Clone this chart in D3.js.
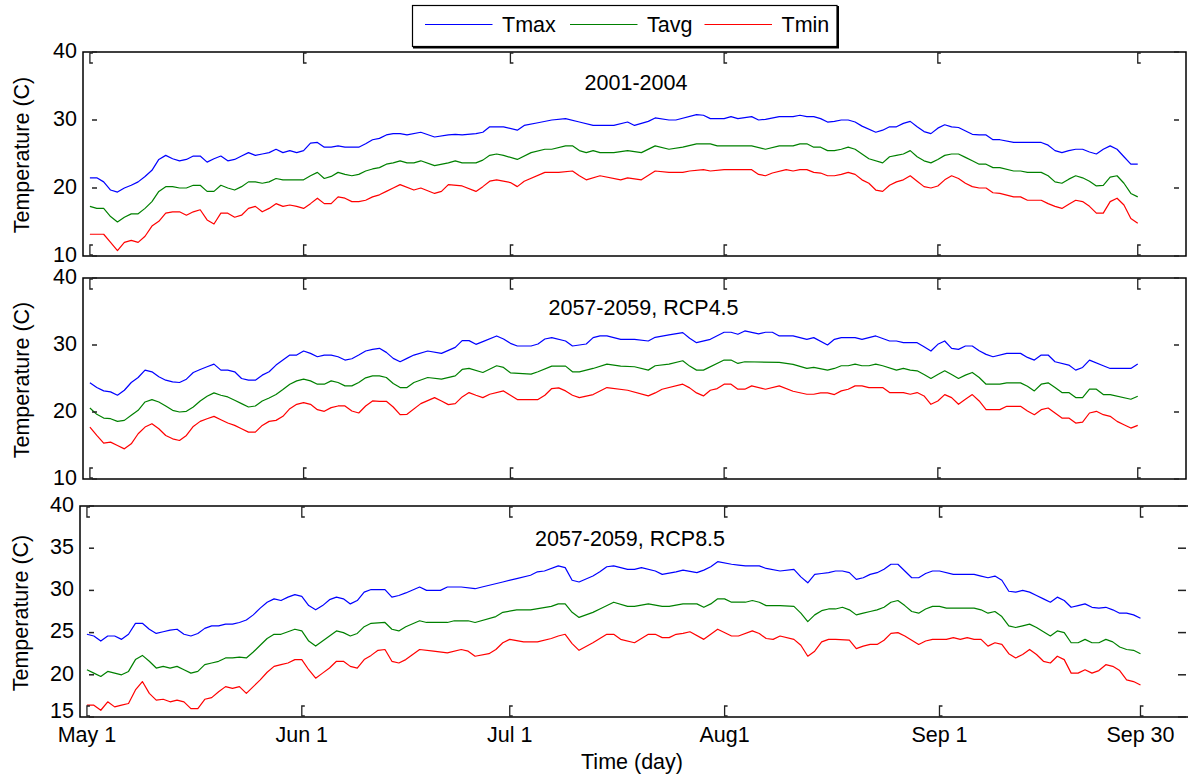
<!DOCTYPE html>
<html>
<head>
<meta charset="utf-8">
<script src="https://cdn.jsdelivr.net/npm/d3@7"></script>
<style>
  html, body { margin: 0; padding: 0; background: #fff; }
  svg { display: block; }
  text { font-family: "Liberation Sans", Arial, Helvetica, sans-serif; fill: #000; }
</style>
</head>
<body>
<svg id="chart" width="1188" height="776"></svg>
<script>
// ---------------- DATA ----------------
const seriesNames = ["Tmax", "Tavg", "Tmin"];
const seriesColors = ["#0000ff", "#008000", "#ff0000"];
const panelTitles = ["2001-2004", "2057-2059, RCP4.5", "2057-2059, RCP8.5"];
const tickDays = [1, 32, 62, 93, 124, 153];
const tickLabels = ["May 1", "Jun 1", "Jul 1", "Aug1", "Sep 1", "Sep 30"];
const yTicksA = [10, 20, 30, 40];
const yTicksB = [15, 20, 25, 30, 35, 40];
const xLabel = "Time (day)";
const yLabel = "Temperature (C)";

// [day (May 1 = 1), temperature]
const p1Tmax = [[1,21.5],[2,21.5],[3,20.9],[4,19.7],[5,19.4],[6,20.0],[7,20.4],[8,20.9],[9,21.7],[10,22.6],[11,24.2],[12,24.8],[13,24.3],[14,24.0],[15,24.2],[16,24.7],[17,24.7],[18,23.8],[19,24.3],[20,24.7],[21,24.0],[22,24.2],[23,24.7],[24,25.2],[25,24.8],[26,25.0],[27,25.2],[28,25.7],[29,25.2],[30,25.5],[31,25.2],[32,25.5],[33,26.6],[34,26.7],[35,26.0],[36,26.0],[37,26.2],[38,26.0],[39,26.0],[40,26.0],[41,26.5],[42,27.1],[43,27.3],[44,27.8],[45,28.0],[46,28.0],[47,27.8],[49,28.2],[51,27.5],[53,27.8],[54,27.9],[55,27.8],[57,28.0],[58,28.2],[59,29.0],[61,29.0],[63,28.5],[64,29.2],[66,29.6],[68,30.0],[70,30.2],[72,29.7],[74,29.2],[77,29.2],[79,29.7],[80,29.2],[82,29.8],[83,30.3],[85,30.0],[86,30.0],[89,30.8],[90,30.7],[91,30.2],[93,30.2],[94,30.5],[95,30.2],[97,30.5],[98,30.0],[99,30.1],[101,30.5],[103,30.5],[104,30.7],[105,30.5],[106,30.5],[107,30.2],[108,29.7],[109,29.8],[110,30.0],[111,30.0],[112,29.7],[113,29.1],[115,28.2],[116,28.5],[117,29.0],[118,29.0],[119,29.5],[120,29.8],[121,29.0],[122,28.3],[123,28.0],[124,28.8],[125,29.3],[126,29.0],[127,28.9],[129,27.9],[130,27.8],[131,27.8],[132,27.1],[133,27.1],[135,26.7],[137,26.7],[139,26.7],[140,26.3],[141,25.5],[142,25.2],[143,25.5],[144,25.7],[145,25.7],[146,25.3],[147,25.0],[148,25.7],[149,26.2],[150,25.7],[151,24.6],[152,23.5],[153,23.5]];
const p1Tavg = [[1,17.3],[2,17.0],[3,17.0],[4,15.8],[5,15.0],[6,15.7],[7,16.2],[8,16.2],[9,17.0],[10,18.0],[11,19.5],[12,20.2],[13,20.2],[14,20.0],[15,20.0],[16,20.4],[17,20.4],[18,19.5],[19,19.5],[20,20.4],[21,20.0],[22,19.7],[23,20.2],[24,20.9],[25,20.9],[26,20.7],[27,20.9],[28,21.4],[29,21.2],[30,21.2],[31,21.2],[32,21.2],[33,21.8],[34,22.3],[35,21.4],[36,21.7],[37,22.3],[38,22.0],[39,21.8],[40,22.0],[41,22.5],[42,22.8],[43,23.0],[44,23.5],[45,23.7],[46,24.0],[47,23.7],[48,23.7],[49,24.0],[51,23.3],[53,23.7],[54,24.0],[55,23.7],[57,23.7],[58,24.1],[59,24.8],[60,25.0],[61,24.8],[63,24.2],[65,25.2],[67,25.7],[68,25.7],[70,26.2],[71,26.2],[72,25.5],[73,25.2],[74,25.5],[75,25.2],[77,25.2],[79,25.5],[81,25.2],[83,26.2],[85,25.7],[87,26.0],[89,26.5],[91,26.5],[92,26.2],[97,26.2],[99,25.7],[101,26.2],[103,26.2],[104,26.5],[105,26.5],[106,26.0],[107,26.0],[108,25.5],[109,25.5],[110,25.7],[111,26.0],[112,25.7],[113,25.0],[114,24.3],[116,23.7],[117,24.6],[118,24.8],[119,25.0],[120,25.5],[121,24.6],[122,24.0],[123,23.7],[124,24.2],[125,24.8],[126,25.0],[127,25.0],[128,24.5],[129,24.0],[130,23.5],[131,23.5],[132,23.0],[133,23.0],[135,22.5],[136,22.5],[137,22.3],[139,22.3],[140,21.8],[141,20.9],[142,20.7],[143,21.3],[144,21.8],[145,21.5],[146,21.0],[147,20.3],[148,20.4],[149,21.6],[150,21.8],[151,20.7],[152,19.2],[153,18.7]];
const p1Tmin = [[1,13.2],[2,13.2],[3,13.2],[4,12.0],[5,10.8],[6,12.0],[7,12.3],[8,12.0],[9,12.9],[10,14.4],[11,15.1],[12,16.3],[13,16.5],[14,16.5],[15,16.0],[16,16.5],[17,16.8],[18,15.3],[19,14.7],[20,16.3],[21,16.3],[22,15.7],[23,16.0],[24,17.0],[25,17.3],[26,16.5],[27,17.0],[28,17.7],[29,17.3],[30,17.5],[31,17.3],[32,17.0],[33,17.7],[34,18.5],[35,17.7],[36,17.7],[37,18.7],[38,18.5],[39,18.0],[40,18.0],[41,18.2],[42,18.7],[43,19.0],[44,19.5],[45,20.0],[46,20.5],[48,19.7],[49,20.0],[51,19.2],[52,19.5],[53,20.5],[55,20.3],[57,19.5],[58,20.2],[59,21.0],[60,21.2],[62,20.8],[63,20.2],[64,21.0],[67,22.3],[69,22.3],[71,22.5],[72,21.8],[73,21.2],[75,21.8],[78,21.2],[79,21.5],[81,21.2],[83,22.5],[85,22.3],[87,22.3],[88,22.5],[90,22.7],[91,22.5],[93,22.7],[97,22.7],[98,22.0],[99,21.8],[100,22.2],[102,22.7],[103,22.5],[104,22.7],[105,22.7],[106,22.3],[107,22.2],[108,21.8],[109,21.8],[110,22.0],[111,22.3],[112,22.0],[113,21.2],[114,20.7],[115,19.7],[116,19.5],[117,20.4],[118,20.9],[119,21.2],[120,21.8],[121,21.0],[122,20.2],[123,20.0],[124,20.3],[125,21.2],[126,21.8],[127,21.4],[128,20.7],[129,20.2],[130,20.0],[131,20.0],[132,19.3],[133,19.2],[135,18.7],[136,18.7],[137,18.2],[139,18.2],[140,17.7],[141,17.3],[142,17.0],[143,17.6],[144,18.2],[145,18.0],[146,17.3],[147,16.3],[148,16.3],[149,18.0],[150,18.5],[151,17.5],[152,15.5],[153,14.8]];

const p2Tmax = [[1,24.35],[2,23.65],[3,23.15],[4,23.0],[5,22.5],[6,23.25],[7,24.4],[8,25.15],[9,26.25],[10,26.0],[11,25.25],[12,24.75],[13,24.5],[14,24.4],[15,24.9],[16,25.9],[17,26.35],[18,26.75],[19,27.15],[20,26.25],[21,26.25],[22,26.0],[23,25.0],[24,24.75],[25,24.75],[26,25.5],[27,26.0],[28,27.0],[29,27.75],[30,28.5],[31,28.5],[32,29.1],[33,28.75],[34,28.25],[35,28.5],[36,28.5],[37,28.25],[38,27.75],[39,27.95],[40,28.5],[41,29.1],[42,29.35],[43,29.5],[44,28.9],[45,28.0],[46,27.5],[47,28.0],[48,28.5],[50,29.1],[52,28.75],[54,29.65],[55,30.65],[56,30.65],[57,30.1],[58,30.5],[60,31.35],[61,30.9],[62,30.25],[63,29.85],[65,29.85],[66,30.15],[67,30.9],[68,31.1],[70,30.6],[71,29.85],[73,30.15],[74,31.1],[75,31.35],[76,31.35],[78,30.85],[80,30.85],[82,30.6],[83,31.15],[85,31.5],[87,31.85],[88,31.0],[89,30.35],[91,30.85],[93,31.9],[94,31.9],[95,31.6],[96,32.1],[98,31.65],[99,31.9],[100,31.9],[101,31.35],[103,31.35],[104,31.1],[105,30.85],[106,31.1],[108,30.0],[109,30.85],[110,31.1],[112,31.1],[113,30.85],[115,31.35],[117,30.6],[118,30.6],[119,30.35],[121,30.35],[122,29.75],[123,29.1],[124,30.1],[125,30.6],[126,29.5],[127,29.35],[128,29.85],[129,29.85],[130,29.15],[131,28.6],[132,28.25],[134,28.75],[136,28.75],[137,28.15],[138,27.75],[139,28.5],[140,28.5],[141,27.5],[143,27.0],[144,26.25],[145,26.65],[146,27.75],[148,26.9],[149,26.5],[152,26.5],[153,27.15]];
const p2Tavg = [[1,20.6],[2,19.65],[3,19.1],[4,19.0],[5,18.6],[6,18.75],[7,19.5],[8,20.25],[9,21.5],[10,21.85],[11,21.5],[12,20.9],[13,20.25],[14,20.0],[15,20.1],[16,20.75],[17,21.65],[18,22.35],[19,22.85],[20,22.5],[21,22.25],[22,21.75],[23,21.25],[24,20.75],[25,20.9],[26,21.65],[27,22.1],[28,22.6],[29,23.35],[30,24.15],[31,24.65],[32,24.9],[33,24.65],[34,24.15],[35,24.15],[36,24.65],[37,24.4],[38,23.9],[39,23.9],[40,24.4],[41,25.1],[42,25.4],[43,25.4],[44,25.15],[45,24.25],[46,23.65],[47,23.65],[48,24.4],[50,25.15],[52,24.9],[54,25.4],[55,26.35],[56,26.5],[58,25.9],[60,26.9],[61,26.65],[62,25.85],[65,25.65],[66,26.0],[68,26.85],[70,26.85],[71,26.0],[72,26.0],[74,26.5],[76,27.15],[78,26.85],[80,26.75],[82,26.25],[83,26.9],[85,27.15],[87,27.65],[88,26.85],[89,26.25],[90,26.25],[93,27.75],[94,27.75],[95,27.25],[96,27.5],[101,27.4],[103,27.1],[105,26.5],[106,26.65],[108,26.25],[109,26.5],[110,26.9],[111,26.9],[112,27.15],[113,26.9],[114,26.9],[115,27.15],[116,26.9],[118,26.25],[119,26.5],[120,26.25],[121,26.15],[122,25.6],[123,25.0],[124,25.6],[125,26.15],[126,25.6],[127,25.0],[128,25.5],[129,25.9],[130,25.15],[131,24.15],[133,24.15],[134,24.35],[136,24.35],[137,23.85],[138,23.15],[139,24.15],[140,24.35],[141,23.65],[142,22.9],[143,22.9],[144,22.15],[145,22.15],[146,23.4],[147,23.4],[148,22.6],[149,22.6],[152,21.9],[153,22.35]];
const p2Tmin = [[1,17.75],[2,16.5],[3,15.35],[4,15.5],[5,15.0],[6,14.5],[7,15.25],[8,16.75],[9,17.75],[10,18.25],[11,17.5],[12,16.5],[13,16.0],[14,15.75],[15,16.5],[16,17.85],[17,18.6],[18,19.0],[19,19.35],[20,18.85],[21,18.35],[22,18.0],[23,17.5],[24,17.0],[25,17.0],[26,18.0],[27,18.6],[28,18.75],[29,19.35],[30,20.5],[31,21.15],[32,21.4],[33,21.15],[34,20.35],[35,20.1],[36,20.65],[37,20.9],[38,20.9],[39,20.15],[40,19.85],[41,20.9],[42,21.65],[43,21.6],[44,21.6],[45,20.75],[46,19.6],[47,19.65],[49,21.25],[51,22.15],[52,21.65],[53,21.1],[54,21.25],[55,22.25],[56,22.9],[57,22.5],[58,22.15],[59,22.65],[61,23.15],[62,22.5],[63,21.85],[66,21.85],[67,22.5],[68,23.5],[69,23.6],[70,23.15],[71,22.5],[72,22.15],[74,22.6],[76,23.65],[79,23.25],[82,22.4],[83,22.85],[84,23.4],[87,24.15],[88,23.6],[89,22.85],[90,22.4],[91,23.25],[92,23.5],[93,24.15],[94,24.15],[95,23.4],[96,23.4],[97,23.9],[99,23.4],[101,23.9],[103,23.1],[105,22.65],[106,22.65],[107,22.85],[108,22.85],[109,22.6],[110,23.15],[111,23.4],[112,23.9],[113,23.9],[114,23.65],[116,23.65],[117,22.9],[119,22.9],[120,22.65],[121,22.9],[122,22.4],[123,21.15],[124,21.65],[125,22.6],[126,22.15],[127,21.15],[128,21.9],[129,22.6],[130,21.65],[131,20.35],[133,20.35],[134,20.85],[136,20.85],[137,20.15],[138,19.6],[139,20.35],[140,20.6],[141,19.85],[142,19.1],[143,19.1],[144,18.35],[145,18.5],[146,19.85],[147,20.1],[148,19.6],[149,19.35],[150,18.6],[151,18.1],[152,17.6],[153,18.0]];

const p3Tmax = [[1,24.8],[2,24.6],[3,24.0],[4,24.6],[5,24.6],[6,24.2],[7,24.8],[8,26.1],[9,26.1],[10,25.4],[11,24.9],[12,25.1],[13,25.3],[14,25.4],[15,24.8],[16,24.6],[17,24.9],[18,25.5],[19,25.8],[20,25.8],[21,26.0],[22,26.0],[23,26.2],[24,26.5],[25,27.1],[26,27.9],[27,28.6],[28,29.0],[29,28.8],[30,29.2],[31,29.5],[32,29.3],[33,28.2],[34,27.7],[35,28.2],[36,28.9],[37,29.2],[38,29.0],[39,28.4],[40,28.8],[41,29.8],[42,30.1],[44,30.1],[45,29.2],[46,29.4],[47,29.7],[49,30.4],[50,30.0],[52,30.0],[53,30.4],[55,30.4],[57,30.2],[58,30.4],[61,31.0],[63,31.4],[65,31.8],[66,32.2],[67,32.3],[69,32.9],[70,32.7],[71,31.2],[72,31.0],[74,31.7],[75,32.2],[76,32.8],[77,32.9],[79,32.5],[80,32.5],[81,32.7],[83,32.3],[84,31.9],[86,32.2],[87,32.4],[89,32.1],[90,32.4],[91,32.8],[92,33.4],[94,33.1],[95,33.0],[96,32.9],[98,32.9],[99,32.6],[101,32.3],[103,32.5],[104,31.6],[105,30.9],[106,31.9],[107,32.0],[108,32.1],[109,32.3],[110,32.3],[111,32.1],[112,31.3],[113,31.5],[114,31.9],[115,32.1],[116,32.5],[117,33.1],[118,33.1],[119,32.3],[120,31.5],[121,31.5],[122,32.0],[123,32.3],[124,32.3],[126,31.9],[129,31.9],[130,31.7],[131,31.5],[132,31.7],[133,31.2],[134,29.9],[135,29.8],[136,30.0],[137,29.8],[138,29.4],[139,29.0],[140,28.6],[141,29.2],[142,28.8],[143,28.0],[144,28.2],[145,28.4],[146,28.0],[147,27.9],[148,28.0],[149,27.7],[150,27.3],[151,27.3],[152,27.1],[153,26.7]];
const p3Tavg = [[1,20.6],[2,20.2],[3,19.8],[4,20.4],[5,20.2],[6,20.0],[7,20.4],[8,21.8],[9,22.3],[10,21.6],[11,20.8],[12,21.0],[13,20.8],[14,21.0],[15,20.6],[16,20.2],[17,20.4],[18,21.2],[19,21.4],[20,21.6],[21,22.0],[22,22.0],[23,22.1],[24,22.0],[25,22.7],[26,23.5],[27,24.3],[28,24.8],[29,24.8],[30,25.1],[31,25.4],[32,25.2],[33,24.0],[34,23.4],[35,24.0],[36,24.6],[37,25.2],[38,25.0],[39,24.6],[40,24.9],[41,25.7],[42,26.1],[44,26.2],[45,25.4],[46,25.2],[47,25.7],[49,26.4],[50,26.2],[53,26.2],[54,26.4],[56,26.4],[57,26.2],[60,26.9],[61,27.4],[63,27.7],[65,27.7],[68,28.1],[69,28.4],[70,28.4],[71,27.4],[72,26.8],[74,27.4],[75,27.8],[77,28.6],[79,28.1],[80,28.1],[82,28.4],[84,28.1],[85,28.1],[87,28.4],[89,28.4],[90,28.0],[91,28.4],[92,29.0],[93,29.0],[94,28.6],[96,28.6],[97,28.8],[98,28.6],[99,28.2],[101,28.2],[103,28.1],[104,27.3],[105,26.3],[106,27.1],[107,27.6],[108,27.8],[109,27.8],[110,28.0],[111,27.7],[112,27.1],[113,27.3],[114,27.5],[115,27.7],[116,28.0],[117,28.6],[118,28.8],[119,28.2],[120,27.5],[121,27.3],[122,27.8],[123,28.1],[124,28.1],[125,27.9],[129,27.9],[130,27.7],[131,27.3],[132,27.5],[133,26.9],[134,25.8],[135,25.6],[136,25.8],[137,26.0],[138,25.6],[139,25.1],[140,24.6],[141,25.2],[142,25.0],[143,23.8],[144,23.8],[145,24.2],[146,23.8],[147,23.8],[148,24.2],[149,23.9],[150,23.3],[151,23.0],[152,22.9],[153,22.5]];
const p3Tmin = [[1,16.4],[2,16.4],[3,15.8],[4,16.8],[5,16.2],[6,16.4],[7,16.6],[8,18.2],[9,19.2],[10,17.8],[11,17.0],[12,17.1],[13,16.8],[14,17.0],[15,16.8],[16,16.0],[17,16.0],[18,17.1],[19,17.3],[20,18.0],[21,18.6],[22,18.4],[23,18.6],[24,17.8],[25,18.6],[26,19.4],[27,20.3],[28,21.0],[29,21.2],[30,21.4],[31,21.8],[32,21.8],[33,20.6],[34,19.6],[35,20.2],[36,20.8],[37,21.6],[38,21.6],[39,21.0],[40,20.8],[41,21.8],[42,22.3],[43,22.9],[44,23.0],[45,21.6],[46,21.4],[47,21.8],[49,23.0],[51,22.8],[53,22.6],[55,23.0],[56,22.8],[57,22.2],[59,22.5],[60,23.0],[61,23.8],[62,24.2],[64,23.9],[66,23.9],[68,24.3],[69,24.6],[70,24.8],[71,23.7],[72,22.9],[74,23.8],[76,24.8],[77,24.8],[78,24.2],[80,23.8],[82,24.8],[83,24.8],[84,24.4],[85,24.4],[86,24.8],[87,24.9],[88,25.1],[90,24.2],[92,25.4],[94,24.6],[95,24.6],[97,25.2],[98,24.9],[99,24.3],[100,24.2],[101,24.6],[103,24.2],[104,23.5],[105,22.2],[106,22.8],[107,23.9],[108,24.2],[109,24.2],[111,24.1],[112,23.1],[113,23.4],[114,23.6],[115,23.6],[116,24.1],[117,24.9],[118,25.0],[119,24.6],[120,24.1],[121,23.6],[122,24.0],[123,24.2],[125,24.2],[126,24.4],[127,24.2],[128,24.4],[129,24.2],[130,24.2],[131,23.4],[132,23.8],[133,23.6],[134,22.5],[135,22.0],[136,22.4],[137,23.0],[138,22.4],[139,21.6],[140,21.4],[141,22.2],[142,21.8],[143,20.2],[144,20.2],[145,20.6],[146,20.2],[147,20.5],[148,21.2],[149,21.0],[150,20.5],[151,19.4],[152,19.2],[153,18.8]];

const panelSeries = [
  [p1Tmax, p1Tavg, p1Tmin],
  [p2Tmax, p2Tavg, p2Tmin],
  [p3Tmax, p3Tavg, p3Tmin]
];
const panelYDomains = [[10, 40], [10, 40], [15, 40]];
const panelYTicks = [yTicksA, yTicksA, yTicksB];

// ---------------- LAYOUT ----------------
const layout = [
  { left: 83, right: 1186, top: 52,  bottom: 256, titleX: 636,   titleY: 90,  ylabX: 29,   ylabY: 155, rTick: [12, 7] },
  { left: 83, right: 1186, top: 278, bottom: 479, titleX: 643.5, titleY: 315, ylabX: 29,   ylabY: 380, rTick: [12, 7] },
  { left: 80, right: 1189, top: 506, bottom: 717, titleX: 630,   titleY: 546, ylabX: 27.5, ylabY: 613, rTick: [11, 3] }
];
const FONT = 21.5;

const svg = d3.select("#chart");

layout.forEach((L, pi) => {
  const x = d3.scaleLinear().domain([0, 160]).range([L.left, L.right]);
  const y = d3.scaleLinear().domain(panelYDomains[pi]).range([L.bottom, L.top]);
  const g = svg.append("g");
  const isBottom = pi === layout.length - 1;

  // lines
  const line = d3.line().x(d => x(d[0])).y(d => y(d[1]));
  panelSeries[pi].forEach((s, si) => {
    g.append("path").datum(s).attr("d", line)
      .attr("fill", "none").attr("stroke", seriesColors[si])
      .attr("stroke-width", 1.2).attr("stroke-linejoin", "round");
  });

  // box
  g.append("rect").attr("x", L.left).attr("y", L.top)
    .attr("width", L.right - L.left).attr("height", L.bottom - L.top)
    .attr("fill", "none").attr("stroke", "#000").attr("stroke-width", 1.5);

  // x ticks ("[" shaped, inside, top and bottom)
  tickDays.forEach(d => {
    const tx = x(d);
    g.append("path").attr("d", `M${tx + 3},${L.top + 1}H${tx}V${L.top + 11}H${tx + 3}`)
      .attr("fill", "none").attr("stroke", "#222").attr("stroke-width", 1.3);
    g.append("path").attr("d", `M${tx + 3},${L.bottom - 11}H${tx}V${L.bottom - 1}H${tx + 3}`)
      .attr("fill", "none").attr("stroke", "#222").attr("stroke-width", 1.3);
  });

  // y ticks and labels
  const yDom = panelYDomains[pi];
  panelYTicks[pi].forEach(v => {
    const ty = y(v);
    g.append("line").attr("x1", L.left + 9).attr("x2", L.left + 14)
      .attr("y1", ty).attr("y2", ty).attr("stroke", "#222").attr("stroke-width", 1.5);
    g.append("line").attr("x1", L.right - L.rTick[0]).attr("x2", L.right - L.rTick[1])
      .attr("y1", ty).attr("y2", ty).attr("stroke", "#222").attr("stroke-width", 1.5);
    const nudge = (isBottom && v === yDom[0]) ? -7 : -2;
    g.append("text").attr("x", L.left - 6).attr("y", ty + nudge)
      .attr("dy", "0.36em").attr("text-anchor", "end")
      .style("font-size", FONT + "px").text(v);
  });

  // title
  g.append("text").attr("x", L.titleX).attr("y", L.titleY)
    .attr("text-anchor", "middle").style("font-size", FONT + "px")
    .text(panelTitles[pi]);

  // y label
  g.append("text")
    .attr("transform", `translate(${L.ylabX},${L.ylabY}) rotate(-90)`)
    .attr("text-anchor", "middle").style("font-size", FONT + "px")
    .text(yLabel);

  // x tick labels on the bottom panel only
  if (isBottom) {
    tickDays.forEach((d, i) => {
      g.append("text").attr("x", x(d)).attr("y", L.bottom + 24.5)
        .attr("text-anchor", "middle").style("font-size", FONT + "px")
        .text(tickLabels[i]);
    });
    g.append("text").attr("x", 632).attr("y", 769)
      .attr("text-anchor", "middle").style("font-size", FONT + "px")
      .text(xLabel);
  }
});

// ---------------- LEGEND ----------------
const leg = svg.append("g");
leg.append("rect").attr("x", 412.5).attr("y", 5.5).attr("width", 424.5).attr("height", 41)
  .attr("fill", "#fff").attr("stroke", "#000").attr("stroke-width", 1.2);
leg.append("path").attr("d", "M838,6V47.5H413").attr("fill", "none")
  .attr("stroke", "#000").attr("stroke-width", 2);
const legX = [425, 570, 704.5];
seriesNames.forEach((n, i) => {
  leg.append("line").attr("x1", legX[i]).attr("x2", legX[i] + 67.5)
    .attr("y1", 24.5).attr("y2", 24.5)
    .attr("stroke", seriesColors[i]).attr("stroke-width", 1.2);
  leg.append("text").attr("x", legX[i] + 77).attr("y", 31.5)
    .style("font-size", FONT + "px").text(n);
});
</script>
</body>
</html>
